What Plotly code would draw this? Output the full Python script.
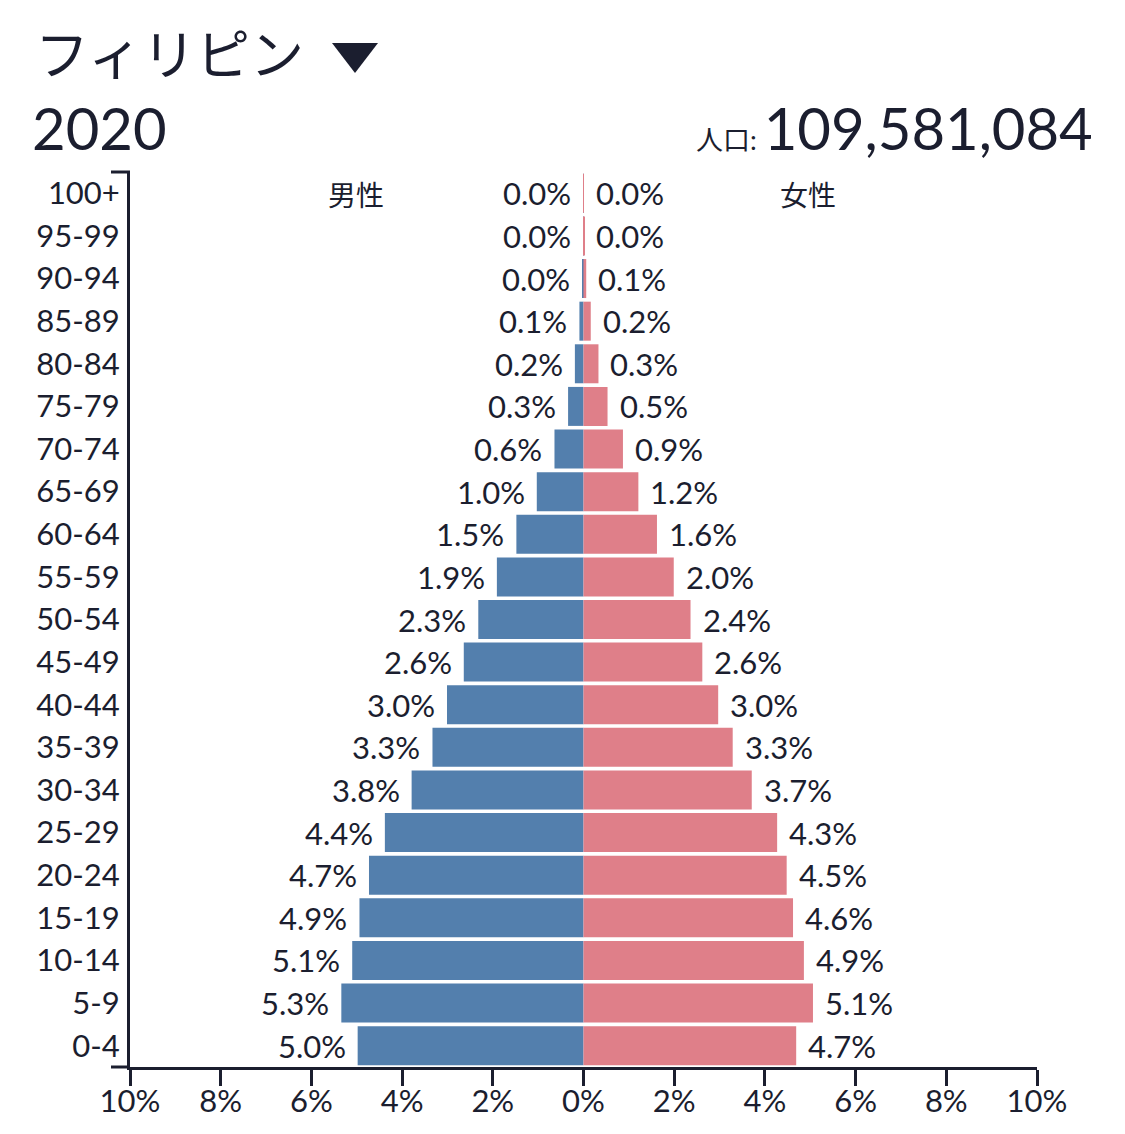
import plotly.graph_objects as go

# ---- data ----
ages = ["0-4", "5-9", "10-14", "15-19", "20-24", "25-29", "30-34", "35-39", "40-44",
        "45-49", "50-54", "55-59", "60-64", "65-69", "70-74", "75-79", "80-84",
        "85-89", "90-94", "95-99", "100+"]
male = [4.98, 5.34, 5.10, 4.94, 4.73, 4.38, 3.79, 3.33, 3.01, 2.64, 2.32, 1.91,
        1.48, 1.03, 0.64, 0.34, 0.19, 0.09, 0.03, 0.006, 0.002]
female = [4.69, 5.06, 4.86, 4.62, 4.48, 4.27, 3.71, 3.29, 2.97, 2.62, 2.36, 1.99,
          1.62, 1.21, 0.87, 0.53, 0.33, 0.16, 0.06, 0.02, 0.004]
x_ticks = [-10, -8, -6, -4, -2, 0, 2, 4, 6, 8, 10]
x_tick_text = ["10%", "8%", "6%", "4%", "2%", "0%", "2%", "4%", "6%", "8%", "10%"]
country = "フィリピン"
year = "2020"
population = "109,581,084"
pop_label = "人口:"
male_label = "男性"
female_label = "女性"

# ---- style ----
W, H = 1125, 1134
L, R, T, B = 130, 88, 172, 67
FONT = "Lato, 'Noto Sans CJK JP', sans-serif"
WT = 400
TXT = "#1b1e2f"
MALE_C = "#537fad"
FEMALE_C = "#df7f89"


def px(xp):
    return (xp - L) / (W - L - R)


def py(yp):
    return (H - B - yp) / (H - T - B)


def fnt(size, weight=WT):
    return dict(size=size, color=TXT, family=FONT, weight=weight)


fig = go.Figure()
fig.add_trace(go.Bar(y=ages, x=[-v for v in male], orientation="h",
                     marker=dict(color=MALE_C, line=dict(width=0)),
                     hoverinfo="skip", name=male_label))
fig.add_trace(go.Bar(y=ages, x=female, orientation="h",
                     marker=dict(color=FEMALE_C, line=dict(width=0)),
                     hoverinfo="skip", name=female_label))

ann = []
for a, m, f in zip(ages, male, female):
    ann.append(dict(x=-m, y=a, xref="x", yref="y", text=f"{m:.1f}%",
                    xanchor="right", yanchor="middle", xshift=-10,
                    showarrow=False, font=fnt(31)))
    ann.append(dict(x=f, y=a, xref="x", yref="y", text=f"{f:.1f}%",
                    xanchor="left", yanchor="middle", xshift=10,
                    showarrow=False, font=fnt(31)))

# titles
ann.append(dict(x=px(33), y=py(54), xref="paper", yref="paper", text=country,
                xanchor="left", yanchor="middle", showarrow=False,
                font=fnt(54)))
ann.append(dict(x=px(30), y=py(127), xref="paper", yref="paper", text=year,
                xanchor="left", yanchor="middle", showarrow=False,
                font=fnt(58)))
ann.append(dict(x=px(1095), y=py(127), xref="paper", yref="paper",
                text=f"<span style='font-size:27px'>{pop_label} </span>{population}",
                xanchor="right", yanchor="middle", showarrow=False,
                font=fnt(58)))
ann.append(dict(x=px(356), y=py(195), xref="paper", yref="paper", text=male_label,
                xanchor="center", yanchor="middle", showarrow=False,
                font=fnt(28)))
ann.append(dict(x=px(808), y=py(195), xref="paper", yref="paper", text=female_label,
                xanchor="center", yanchor="middle", showarrow=False,
                font=fnt(28)))

# dropdown triangle icon next to the country name
tri = (f"M {px(332)} {py(43)} L {px(378)} {py(43)} L {px(355)} {py(73)} Z")

fig.update_layout(
    width=W, height=H,
    margin=dict(l=L, r=R, t=T, b=B),
    paper_bgcolor="white", plot_bgcolor="white",
    barmode="overlay", bargap=0.085,
    showlegend=False,
    font=fnt(30),
    annotations=ann,
    xaxis=dict(range=[-10, 10], tickvals=x_ticks, ticktext=x_tick_text,
               showgrid=False, zeroline=False, showline=True, linewidth=3,
               linecolor=TXT, ticks="outside", ticklen=16, tickwidth=3,
               tickcolor=TXT, tickfont=fnt(31), ticklabelstandoff=-11,
               automargin=False, fixedrange=True),
    yaxis=dict(type="category", categoryorder="array", categoryarray=ages,
               range=[-0.5, len(ages) - 0.5], showgrid=False, zeroline=False,
               showline=True, linewidth=3, linecolor=TXT, ticks="",
               ticklabelstandoff=1, tickfont=fnt(31), automargin=False,
               fixedrange=True),
    shapes=[
        dict(type="line", xref="x domain", yref="y domain", xsizemode="pixel",
             xanchor=0, x0=-19, x1=0, y0=1, y1=1,
             line=dict(color=TXT, width=3)),
        dict(type="line", xref="x domain", yref="y domain", xsizemode="pixel",
             xanchor=0, x0=-19, x1=0, y0=0, y1=0,
             line=dict(color=TXT, width=3)),
        dict(type="path", xref="paper", yref="paper", path=tri,
             fillcolor=TXT, line=dict(width=0)),
    ],
)

fig.write_html("out.html", config={"displayModeBar": False})
